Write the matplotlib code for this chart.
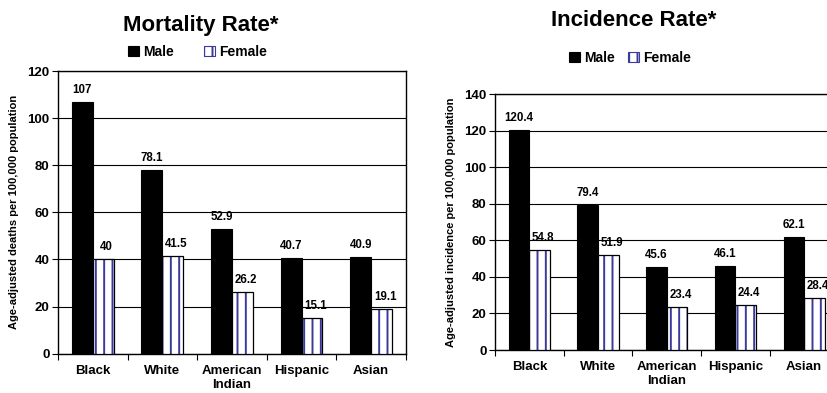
import matplotlib
matplotlib.use("Agg")
import matplotlib.pyplot as plt
from matplotlib.patches import Patch
import numpy as np

plt.rcParams['font.family'] = ['Liberation Sans', 'DejaVu Sans']
plt.rcParams['font.weight'] = 'bold'
plt.rcParams['hatch.linewidth'] = 1.4

# Data
groups = ["Black", "White", "American\nIndian", "Hispanic", "Asian"]
mortality_male = [107, 78.1, 52.9, 40.7, 40.9]
mortality_female = [40, 41.5, 26.2, 15.1, 19.1]
incidence_male = [120.4, 79.4, 45.6, 46.1, 62.1]
incidence_female = [54.8, 51.9, 23.4, 24.4, 28.4]

MALE_COLOR = "black"
STRIPE_COLOR = "#3a3a9c"

fig = plt.figure(figsize=(8.28, 3.93), dpi=100)


def fmt(v):
    return f"{v:g}"


def draw_panel(ax, male, female, ymax, ylabel, title, title_xy, legend_xy, colspace):
    x = np.arange(len(groups))
    w = 0.3
    ax.bar(x - w / 2, male, width=w, color=MALE_COLOR, edgecolor="black",
           linewidth=0.8, zorder=3)
    # striped fill, then a black outline on top
    ax.bar(x + w / 2, female, width=w, color="white", edgecolor=STRIPE_COLOR,
           hatch="||", linewidth=0, zorder=3)
    ax.bar(x + w / 2, female, width=w, fill=False, edgecolor="black",
           linewidth=0.9, zorder=4)

    for xi, v in zip(x - w / 2, male):
        ax.annotate(fmt(v), xy=(xi, v), xytext=(0, 6.5), textcoords="offset points",
                    ha="center", va="baseline", fontsize=8.3, fontweight="bold")
    for xi, v in zip(x + w / 2, female):
        ax.annotate(fmt(v), xy=(xi, v), xytext=(2.5, 6.5), textcoords="offset points",
                    ha="center", va="baseline", fontsize=8.3, fontweight="bold")

    ax.set_xlim(-0.5, len(groups) - 0.5)
    ax.set_ylim(0, ymax)
    ax.set_yticks(np.arange(0, ymax + 1, 20))
    ax.yaxis.grid(True, color="black", linewidth=0.8, zorder=0)
    ax.set_axisbelow(True)

    ax.set_xticks(x)
    ax.set_xticklabels(groups, fontsize=9.5, fontweight="bold")
    ax.set_xticks(np.arange(-0.5, len(groups)), minor=True)
    ax.tick_params(axis="x", which="major", length=0, pad=8)
    ax.tick_params(axis="x", which="minor", length=4, width=0.8, direction="out")
    ax.tick_params(axis="y", length=4.5, width=0.8, pad=1.5, labelsize=9.5)
    for lab in ax.get_yticklabels():
        lab.set_fontweight("bold")

    for sp in ax.spines.values():
        sp.set_linewidth(1.0)
        sp.set_color("black")

    ax.set_ylabel(ylabel, fontsize=8, fontweight="bold")
    ax.yaxis.set_label_coords(-0.113, 0.5)

    fig.text(title_xy[0], title_xy[1], title, ha="center", va="baseline",
             fontsize=16, fontweight="bold")

    handles = [Patch(facecolor=MALE_COLOR, edgecolor="black", linewidth=0.8),
               Patch(facecolor="white", edgecolor=STRIPE_COLOR, hatch="||", linewidth=0.8)]
    fig.legend(handles, ["Male", "Female"], loc="center", bbox_to_anchor=legend_xy,
               ncol=2, frameon=False, handlelength=0.8, handleheight=0.8,
               handletextpad=0.3, columnspacing=colspace, borderpad=0,
               prop={"weight": "bold", "size": 10})


ax1 = fig.add_axes([0.0700, 0.1000, 0.4203, 0.7193])
draw_panel(ax1, mortality_male, mortality_female, 120,
           "Age-adjusted deaths per 100,000 population", "Mortality Rate*",
           (201 / 828, 1 - 30.7 / 393), (197.5 / 828, 1 - 52 / 393), 2.1)

ax2 = fig.add_axes([0.5978, 0.1094, 0.4149, 0.7601 - 0.1094])
draw_panel(ax2, incidence_male, incidence_female, 140,
           "Age-adjusted incidence per 100,000 population", "Incidence Rate*",
           (634 / 828, 1 - 25.7 / 393), (630 / 828, 1 - 58 / 393), 0.9)

fig.savefig("out.png", dpi=100)
